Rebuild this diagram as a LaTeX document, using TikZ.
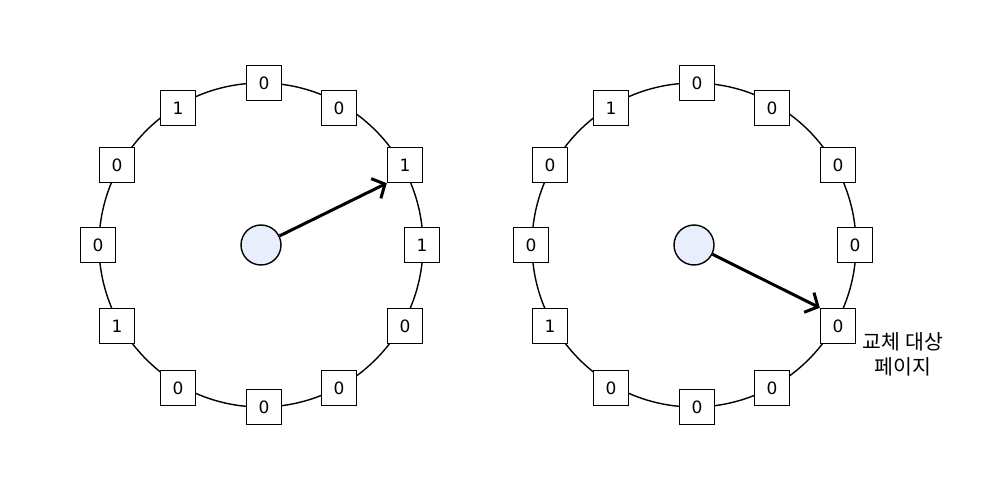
\documentclass[tikz,border=0pt]{standalone}
\usepackage{fontspec}
\setmainfont{DejaVu Sans}
\newfontfamily\kofont{Noto Sans CJK KR}
\usetikzlibrary{arrows.meta}
\definecolor{hubfill}{HTML}{E8EEFB}
\tikzset{
  ring/.style={draw=black, line width=1.4pt, circle, minimum size=324pt, inner sep=0pt},
  bit/.style={draw=black, fill=white, line width=1.4pt, minimum size=35pt, inner sep=0pt, font=\fontsize{17}{20}\selectfont},
  hub/.style={draw=black, fill=hubfill, line width=1.4pt, circle, minimum size=40pt, inner sep=0pt},
  hand/.style={line width=3pt, -{Straight Barb[length=10pt,width=22pt,line width=3pt]}},
  lbl/.style={align=center, font=\kofont\fontsize{20.5}{25}\selectfont, inner sep=0pt}
}
\begin{document}
\begin{tikzpicture}[x=1pt,y=-1pt]
\useasboundingbox (0,0) rectangle (1007,487);
% left clock
\node[ring] (ringL) at (261,245) {};
\foreach \i/\px/\py/\v in {0/264/83/0,1/339/108/0,2/405/165/1,3/422/245/1,4/405/326/0,5/339/388/0,6/264/407/0,7/178/388/0,8/117/326/1,9/98/245/0,10/117/165/0,11/178/108/1}{
  \node[bit] (L\i) at (\px,\py) {\v};
}
\node[hub] (hubL) at (261,245) {};
\draw[hand] (hubL) -- (L2.south west);
% right clock
\node[ring] (ringR) at (694,245) {};
\foreach \i/\px/\py/\v in {0/264/83/0,1/339/108/0,2/405/165/0,3/422/245/0,4/405/326/0,5/339/388/0,6/264/407/0,7/178/388/0,8/117/326/1,9/98/245/0,10/117/165/0,11/178/108/1}{
  \node[bit] (R\i) at (\px+433,\py) {\v};
}
\node[hub] (hubR) at (694,245) {};
\draw[hand] (hubR) -- (R4.north west);
\node[lbl] (label) at (903,354) {교체 대상\\페이지};
\end{tikzpicture}
\end{document}
